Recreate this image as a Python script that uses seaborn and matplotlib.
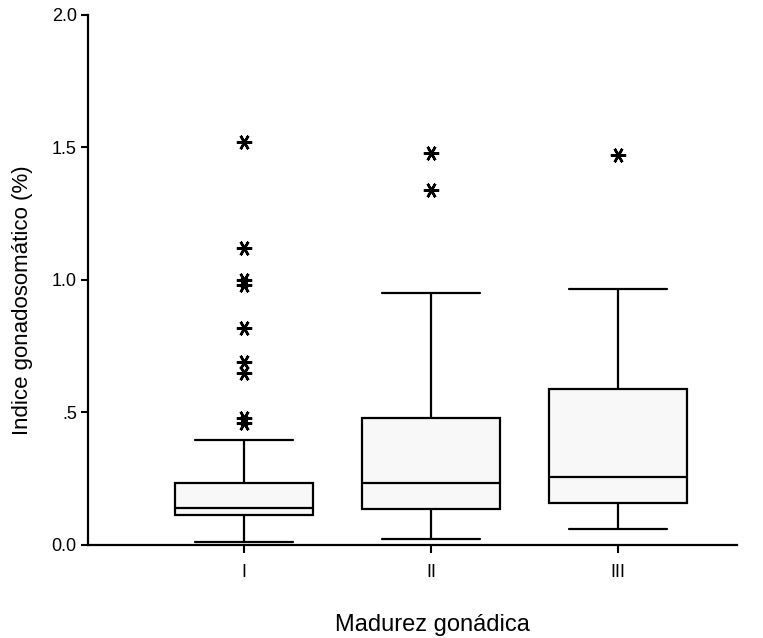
import pandas as pd
import seaborn as sns
import matplotlib.pyplot as plt

# values
groups = ['I', 'II', 'III']
lower_whisker = [0.011, 0.023, 0.060]
q1 = [0.113, 0.136, 0.158]
median = [0.140, 0.234, 0.257]
q3 = [0.234, 0.479, 0.589]
upper_whisker = [0.396, 0.951, 0.966]
outliers = [
    [1.52, 1.12, 1.00, 0.98, 0.82, 0.69, 0.65, 0.48, 0.46],
    [1.48, 1.34],
    [1.47],
]

# rebuild a sample per group whose quartiles / whiskers match the summaries
rows = []
for g, lo, a, m, b, hi, out in zip(groups, lower_whisker, q1, median, q3,
                                   upper_whisker, outliers):
    k = len(out) + 1
    vals = [lo] + [a] * k + [m] * k + [b] * k + [hi] + out
    for v in vals:
        rows.append({'madurez': g, 'igs': v})
data = pd.DataFrame(rows)

sns.set_style('ticks')
plt.rcParams['font.family'] = ['Liberation Sans', 'DejaVu Sans']
plt.rcParams['text.color'] = 'black'
plt.rcParams['axes.labelcolor'] = 'black'
plt.rcParams['xtick.color'] = 'black'
plt.rcParams['ytick.color'] = 'black'
plt.rcParams['axes.edgecolor'] = 'black'

fig = plt.figure(figsize=(7.63, 6.38), dpi=100)
ax = fig.add_axes([0.1153, 0.1458, 0.8506, 0.8307])

sns.boxplot(data=data, x='madurez', y='igs', order=groups, ax=ax,
            color='#f8f8f8', linecolor='black', linewidth=1.6, width=0.74,
            whis=1.5, capwidths=0.52,
            flierprops=dict(marker=(6, 2, 90), markersize=11,
                            markeredgewidth=1.8, markeredgecolor='black',
                            markerfacecolor='black'))

ax.set_xlim(-0.834, 2.636)
ax.set_ylim(0, 2.0)
ax.set_yticks([0, 0.5, 1.0, 1.5, 2.0])
ax.set_yticklabels(['0.0', '.5', '1.0', '1.5', '2.0'])
sns.despine(ax=ax)
for s in ['left', 'bottom']:
    ax.spines[s].set_linewidth(1.6)
ax.tick_params(axis='y', length=5, width=1.5, labelsize=13, pad=3)
ax.tick_params(axis='x', length=6, width=1.5, labelsize=13, pad=8)

ax.set_ylabel('Indice gonadosomático (%)', fontsize=16)
ax.set_xlabel('Madurez gonádica', fontsize=17, va='baseline')
ax.yaxis.set_label_coords(-0.085, 0.462)
ax.xaxis.set_label_coords(0.53, -0.163)

fig.savefig('out.png', dpi=100)
